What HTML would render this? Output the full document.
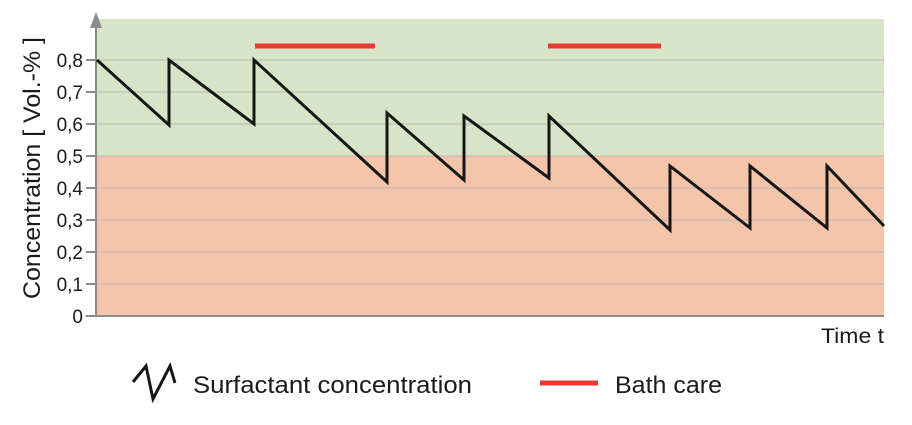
<!DOCTYPE html>
<html><head><style>
html,body{margin:0;padding:0;background:#fff;}
svg{display:block;}
text{font-family:"Liberation Sans",sans-serif;fill:#1a1a1a;}
</style></head><body>
<svg width="912" height="425" viewBox="0 0 912 425" xmlns="http://www.w3.org/2000/svg">
<rect x="97" y="19" width="787" height="137" fill="#d8e4c8"/>
<rect x="97" y="156" width="787" height="160" fill="#f4c5aa"/>
<g stroke="#bdb8b0" stroke-width="1">
<line x1="97" y1="60" x2="884" y2="60"/>
<line x1="97" y1="92" x2="884" y2="92"/>
<line x1="97" y1="124" x2="884" y2="124"/>
<line x1="97" y1="156" x2="884" y2="156"/>
<line x1="97" y1="188" x2="884" y2="188"/>
<line x1="97" y1="220" x2="884" y2="220"/>
<line x1="97" y1="252" x2="884" y2="252"/>
<line x1="97" y1="284" x2="884" y2="284"/>
</g>
<g stroke="#8a8a8a" stroke-width="2">
<line x1="96" y1="26" x2="96" y2="317"/>
<line x1="95" y1="316" x2="884" y2="316"/>
<line x1="86" y1="60" x2="96" y2="60"/><line x1="86" y1="92" x2="96" y2="92"/>
<line x1="86" y1="124" x2="96" y2="124"/><line x1="86" y1="156" x2="96" y2="156"/>
<line x1="86" y1="188" x2="96" y2="188"/><line x1="86" y1="220" x2="96" y2="220"/>
<line x1="86" y1="252" x2="96" y2="252"/><line x1="86" y1="284" x2="96" y2="284"/>
<line x1="86" y1="316" x2="96" y2="316"/>
</g>
<polygon points="96,12 90,28 102,28" fill="#8a8a8a"/>
<g font-size="19" text-anchor="end">
<text x="83" y="67">0,8</text><text x="83" y="99">0,7</text><text x="83" y="131">0,6</text>
<text x="83" y="163">0,5</text><text x="83" y="195">0,4</text><text x="83" y="227">0,3</text>
<text x="83" y="259">0,2</text><text x="83" y="291">0,1</text><text x="83" y="323">0</text>
</g>
<text transform="translate(40,168) rotate(-90)" font-size="24" text-anchor="middle" textLength="262" lengthAdjust="spacingAndGlyphs">Concentration [ Vol.-% ]</text>
<text x="821" y="343" font-size="21" textLength="63" lengthAdjust="spacingAndGlyphs">Time t</text>
<g stroke="#e83a30" stroke-width="5">
<line x1="255" y1="46" x2="375" y2="46"/>
<line x1="548" y1="46" x2="661" y2="46"/>
<line x1="540" y1="383" x2="598" y2="383"/>
</g>
<polyline fill="none" stroke="#161616" stroke-width="3" stroke-linejoin="miter" points="97,60 169,125 169,60 254,124 254,60 387,182 387,113 464,180 464,116 549,178 549,116 670,230 670,166 750,228 750,166 827,228 827,166 884,226"/>
<polyline fill="none" stroke="#161616" stroke-width="3" points="133,382 146,366 153,399 170,366 175,383"/>
<text x="193" y="393" font-size="24" textLength="279" lengthAdjust="spacingAndGlyphs">Surfactant concentration</text>
<text x="615" y="393" font-size="24" textLength="107" lengthAdjust="spacingAndGlyphs">Bath care</text>
</svg>
</body></html>
